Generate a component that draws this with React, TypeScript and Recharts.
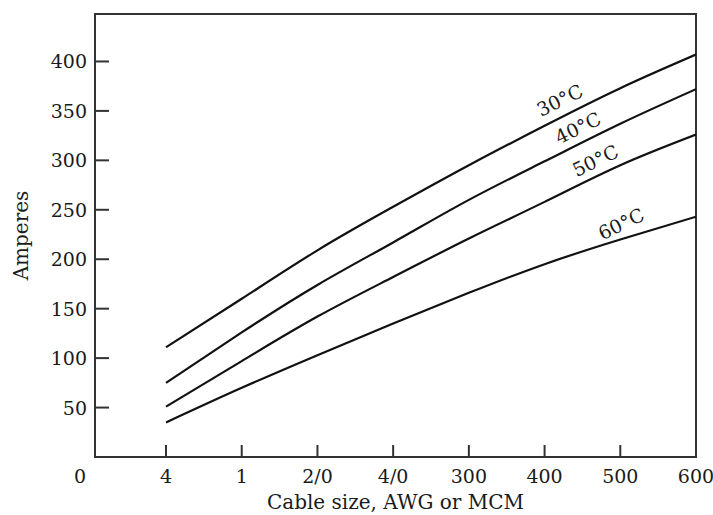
import React from "react";
import { LineChart, Line, XAxis, YAxis, ReferenceArea, ReferenceDot, Label } from "recharts";

const categories = ["4", "1", "2/0", "4/0", "300", "400", "500", "600"];
const amps30 = [111, 160, 209, 253, 295, 335, 373, 407];
const amps40 = [75, 126, 174, 217, 260, 299, 337, 372];
const amps50 = [51, 97, 142, 182, 221, 258, 295, 326];
const amps60 = [35, 70, 103, 135, 166, 195, 220, 243];
const yTicks = [0, 50, 100, 150, 200, 250, 300, 350, 400];
const curveNames = ["30°C", "40°C", "50°C", "60°C"];
const curveLabelX = [6.2, 6.44, 6.67, 7.01];
const curveLabelY = [361, 333, 300, 236];

const X_MIN = 0.062;
const X_MAX = 8;
const Y_MAX = 448;

const FONT = "'DejaVu Serif', serif";
const INK = "#1a1a1a";
const FS = 19;
const TITLE_FS = 20;

const data = categories.map((c, i) => ({
  pos: i + 1,
  cat: c,
  t30: amps30[i],
  t40: amps40[i],
  t50: amps50[i],
  t60: amps60[i],
}));
const xTicks = categories.map((_, i) => i + 1);

const XTick = (props: any) => {
  const { x, y, payload } = props;
  const label = categories[payload.value - 1];
  return (
    <g>
      <line x1={x} y1={y} x2={x} y2={y - 12} stroke="#333" strokeWidth={2} />
      <text x={x} y={y + 26} textAnchor="middle" fontFamily={FONT} fontSize={FS} fill={INK}>
        {label}
      </text>
    </g>
  );
};

const YTick = (props: any) => {
  const { x, y, payload } = props;
  if (payload.value === 0) {
    return (
      <text x={x - 15} y={y + 26} textAnchor="middle" fontFamily={FONT} fontSize={FS} fill={INK}>
        0
      </text>
    );
  }
  return (
    <g>
      <line x1={x} y1={y} x2={x + 14} y2={y} stroke="#333" strokeWidth={2} />
      <text x={x - 8} y={y + 7} textAnchor="end" fontFamily={FONT} fontSize={FS} fill={INK}>
        {payload.value}
      </text>
    </g>
  );
};

const curveLabel = (text: string) => (props: any) => {
  const vb = props.viewBox || {};
  const cx = vb.x + (vb.width || 0) / 2;
  const cy = vb.y + (vb.height || 0) / 2;
  return (
    <text
      x={cx}
      y={cy}
      textAnchor="middle"
      dominantBaseline="central"
      transform={`rotate(-26, ${cx}, ${cy})`}
      fontFamily={FONT}
      fontSize={FS}
      fill={INK}
    >
      {text}
    </text>
  );
};

const xTitle = (props: any) => {
  const vb = props.viewBox;
  return (
    <text x={vb.x + vb.width / 2} y={vb.y + vb.height - 6} textAnchor="middle" fontFamily={FONT} fontSize={TITLE_FS} fill={INK}>
      Cable size, AWG or MCM
    </text>
  );
};

const yTitle = (props: any) => {
  const vb = props.viewBox;
  const cx = vb.x + 21;
  const cy = vb.y + vb.height / 2;
  return (
    <text
      x={cx}
      y={cy}
      textAnchor="middle"
      dominantBaseline="central"
      transform={`rotate(-90, ${cx}, ${cy})`}
      fontFamily={FONT}
      fontSize={TITLE_FS}
      fill={INK}
    >
      Amperes
    </text>
  );
};

export default function App() {
  const series = ["t30", "t40", "t50", "t60"];
  return (
    <div style={{ position: "absolute", left: 0, top: 0, background: "#fff" }}>
      <LineChart width={713} height={515} data={data} margin={{ top: 14, right: 17, bottom: 0, left: 0 }}>
        <XAxis
          type="number"
          dataKey="pos"
          domain={[X_MIN, X_MAX]}
          allowDataOverflow
          ticks={xTicks}
          tick={<XTick />}
          tickLine={false}
          tickSize={0}
          tickMargin={0}
          height={58}
          axisLine={{ stroke: "#333", strokeWidth: 2 }}
          interval={0}
        >
          <Label content={xTitle} />
        </XAxis>
        <YAxis
          type="number"
          domain={[0, Y_MAX]}
          allowDataOverflow
          ticks={yTicks}
          tick={<YTick />}
          tickLine={false}
          tickSize={0}
          tickMargin={0}
          width={95}
          axisLine={{ stroke: "#333", strokeWidth: 2 }}
          interval={0}
        >
          <Label content={yTitle} />
        </YAxis>
        <ReferenceArea
          x1={X_MIN}
          x2={X_MAX}
          y1={0}
          y2={Y_MAX}
          fill="none"
          fillOpacity={0}
          stroke="#333"
          strokeWidth={2}
          ifOverflow="visible"
        />
        {series.map((k) => (
          <Line
            key={k}
            dataKey={k}
            type="natural"
            stroke="#111"
            strokeWidth={2.2}
            dot={false}
            activeDot={false}
            isAnimationActive={false}
          />
        ))}
        {curveNames.map((n, i) => (
          <ReferenceDot
            key={n}
            x={curveLabelX[i]}
            y={curveLabelY[i]}
            r={0}
            fill="none"
            stroke="none"
            label={curveLabel(n)}
          />
        ))}
      </LineChart>
    </div>
  );
}
